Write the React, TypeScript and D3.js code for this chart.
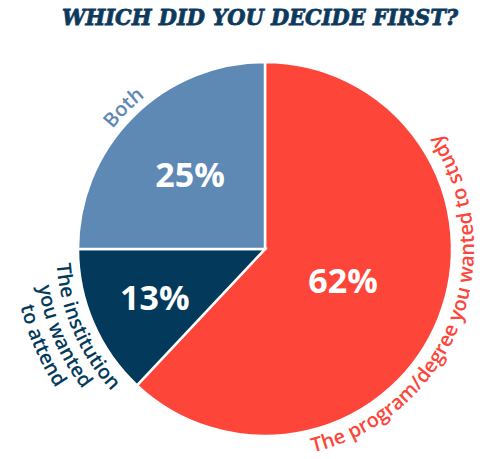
import React from 'react';
import * as d3 from 'd3';

const title = 'WHICH DID YOU DECIDE FIRST?';
const categories = ['The program/degree you wanted to study', 'The institution you wanted to attend', 'Both'];
const values = [62, 13, 25];
const labelLines = [['The program/degree you wanted to study'], ['The institution', 'you wanted', 'to attend'], ['Both']];
const colors = ['#fe453a', '#033a5c', '#5e89b4'];

const W = 482, H = 459;
const cx = 265, cy = 249, R = 187;
const pctRadius = [84, 120, 106];

const pt = (r: number, deg: number) => {
  const a = (deg * Math.PI) / 180;
  return [cx + r * Math.sin(a), cy - r * Math.cos(a)];
};
const arcD = (r: number, a0: number, a1: number) => {
  const [x0, y0] = pt(r, a0);
  const [x1, y1] = pt(r, a1);
  const large = Math.abs(a1 - a0) > 180 ? 1 : 0;
  const sweep = a1 > a0 ? 1 : 0;
  return `M${x0},${y0} A${r},${r} 0 ${large} ${sweep} ${x1},${y1}`;
};

export default function App() {
  const pie = d3.pie<number>().sort(null).value((d) => d);
  const arcs = pie(values);
  const arc = d3.arc<d3.PieArcDatum<number>>().innerRadius(0).outerRadius(R);
  const font = "'Open Sans', 'Noto Sans', sans-serif";

  const labelPaths: { id: string; d: string; text: string; color: string }[] = [];
  arcs.forEach((a, i) => {
    const mid = ((a.startAngle + a.endAngle) / 2) * 180 / Math.PI;
    const lines = labelLines[i];
    const outward = mid > 270 || mid < 90;
    lines.forEach((t, j) => {
      let d: string;
      if (outward) {
        d = arcD(194 + j * 21, mid - 85, mid + 85);
      } else {
        d = arcD(209 + j * 21, mid + 85, mid - 85);
      }
      labelPaths.push({ id: `lp-${i}-${j}`, d, text: t, color: colors[i] });
    });
  });

  return (
    <svg width={W} height={H} style={{ position: 'absolute', left: 0, top: 0 }}>
      <rect width={W} height={H} fill="#fff" />
      <text x={260} y={25} textAnchor="middle" fontFamily="'DejaVu Serif', serif" fontWeight="bold" fontStyle="italic"
        fontSize={22} fill="#0d3a5c" stroke="#0d3a5c" strokeWidth={0.8} textLength={396} lengthAdjust="spacingAndGlyphs">{title}</text>
      <g transform={`translate(${cx},${cy})`}>
        {arcs.map((a, i) => (
          <path key={categories[i]} d={arc(a) || ''} fill={colors[i]} stroke="#fff" strokeWidth={2.5} strokeLinejoin="miter" />
        ))}
        {arcs.map((a, i) => {
          const c = d3.arc<d3.PieArcDatum<number>>().innerRadius(pctRadius[i]).outerRadius(pctRadius[i]).centroid(a);
          return (
            <text key={'p' + i} x={c[0]} y={c[1]} textAnchor="middle" dominantBaseline="central" fontFamily={font}
              fontWeight={700} fontSize={34} fill="#fff">{values[i]}%</text>
          );
        })}
      </g>
      <defs>
        {labelPaths.map((p) => (
          <path key={p.id} id={p.id} d={p.d} fill="none" />
        ))}
      </defs>
      {labelPaths.map((p) => (
        <text key={'t' + p.id} fontFamily={font} fontWeight={600} fontSize={20} fill={p.color}>
          <textPath href={`#${p.id}`} startOffset="50%" textAnchor="middle">{p.text}</textPath>
        </text>
      ))}
    </svg>
  );
}
